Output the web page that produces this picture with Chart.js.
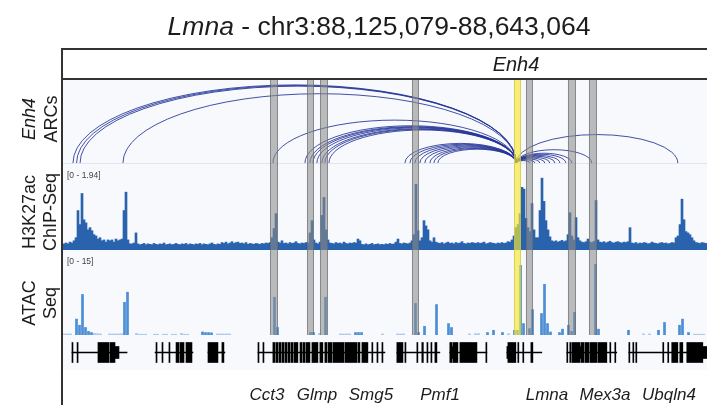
<!DOCTYPE html>
<html>
<head>
<meta charset="utf-8">
<script src="https://cdn.jsdelivr.net/npm/chart.js@4.4.1/dist/chart.umd.min.js"></script>
<style>
  html, body { margin: 0; padding: 0; background: #fff; }
  #page { position: relative; width: 707px; height: 405px; overflow: hidden; }
  .track { position: absolute; left: 63px; width: 644px; }
  canvas { display: block; }
  svg { position: absolute; left: 0; top: 0; }
</style>
</head>
<body>
<div id="page">
  <div class="track" style="top:80px;height:84px;background:#f8f9fc"><canvas id="arcs" width="644" height="84"></canvas></div>
  <div class="track" style="top:164px;height:86px;background:#f8f9fc"><canvas id="chip" width="644" height="86"></canvas></div>
  <div class="track" style="top:250px;height:85px;background:#f8f9fc"><canvas id="atac" width="644" height="85"></canvas></div>
  <div class="track" style="top:335px;height:35px;background:#f7f9fc"><canvas id="genes" width="644" height="35"></canvas></div>

  <svg width="707" height="405" font-family="'Liberation Sans', Arial, sans-serif" fill="#1c1c1c">
    <line x1="62" y1="49" x2="707" y2="49" stroke="#333" stroke-width="2"/>
    <line x1="62" y1="79" x2="707" y2="79" stroke="#333" stroke-width="2"/>
    <line x1="62" y1="48" x2="62" y2="405" stroke="#333" stroke-width="2"/>

    <text x="379" y="35" text-anchor="middle" font-size="26.5"><tspan font-style="italic">Lmna</tspan> - chr3:88,125,079-88,643,064</text>
    <text x="516" y="71" text-anchor="middle" font-size="20" font-style="italic">Enh4</text>

    <text transform="translate(35,119) rotate(-90)" text-anchor="middle" font-size="18" font-style="italic">Enh4</text>
    <text transform="translate(57,119) rotate(-90)" text-anchor="middle" font-size="18">ARCs</text>
    <text transform="translate(35,212) rotate(-90)" text-anchor="middle" font-size="18">H3K27ac</text>
    <text transform="translate(56,212) rotate(-90)" text-anchor="middle" font-size="18">ChIP-Seq</text>
    <text transform="translate(35,303) rotate(-90)" text-anchor="middle" font-size="18">ATAC</text>
    <text transform="translate(56,303) rotate(-90)" text-anchor="middle" font-size="18">Seq</text>

    <text x="67" y="178" font-size="8.5" fill="#444">[0 - 1.94]</text>
    <text x="67" y="264" font-size="8.5" fill="#444">[0 - 15]</text>

    <g font-size="17" font-style="italic" text-anchor="middle">
      <text x="267" y="400">Cct3</text>
      <text x="317" y="400">Glmp</text>
      <text x="371" y="400">Smg5</text>
      <text x="440" y="400">Pmf1</text>
      <text x="547" y="400">Lmna</text>
      <text x="605" y="400">Mex3a</text>
      <text x="669" y="400">Ubqln4</text>
    </g>
  </svg>
</div>

<script>
// Locus window (Mb)
const regionStart = 88.125079;
const regionEnd = 88.643064;

// H3K27ac ChIP-Seq coverage, fixed-step bins
const chipStart = 88.125079;
const chipStep = 0.00160865;
const chipMax = 1.94;
const chipVals = [
  .14,.16,.14,.18,.16,.21,.28,.90,.58,1.29,
  .69,.62,.46,.51,.44,.35,.32,.25,.28,.21,
  .23,.18,.23,.21,.23,.18,.25,.21,.23,.25,
  .90,1.32,.23,.14,.14,.16,.39,.14,.12,.13,
  .15,.12,.14,.13,.12,.15,.13,.12,.14,.13,
  .16,.12,.13,.14,.12,.13,.15,.13,.12,.14,
  .13,.15,.12,.14,.13,.12,.14,.13,.15,.12,
  .14,.13,.12,.14,.16,.13,.12,.14,.13,.17,
  .15,.18,.14,.16,.19,.15,.17,.18,.15,.16,
  .14,.17,.13,.15,.14,.13,.15,.14,.13,.15,
  .14,.16,.15,.17,.28,.49,.83,.18,.16,.21,
  .15,.16,.14,.17,.15,.16,.19,.15,.14,.16,
  .15,.17,.16,.39,.67,.23,.16,.14,.18,.79,
  1.20,.46,.23,.16,.15,.14,.17,.15,.16,.14,
  .18,.15,.14,.16,.15,.17,.16,.25,.21,.13,
  .12,.14,.12,.13,.15,.12,.13,.14,.12,.13,
  .12,.14,.13,.15,.13,.14,.18,.25,.15,.14,
  .16,.15,.14,.16,.21,.35,1.50,.44,.21,.28,
  .67,.55,.46,.21,.18,.28,.18,.16,.15,.17,
  .14,.16,.18,.15,.16,.14,.17,.15,.16,.19,
  .15,.14,.16,.15,.17,.16,.15,.17,.15,.16,
  .18,.14,.15,.17,.16,.15,.14,.16,.15,.17,
  .15,.16,.19,.18,.23,.32,.51,.58,.83,1.43,
  1.39,.72,.51,.42,1.06,.46,.28,.28,.90,1.64,
  1.11,.67,.46,.30,.21,.19,.21,.18,.20,.22,
  .19,.21,.35,.85,.32,.23,.74,.28,.21,.18,
  .17,.19,.25,.18,.17,.20,1.13,.23,.18,.17,
  .19,.16,.18,.20,.17,.16,.18,.19,.17,.16,
  .18,.17,.19,.51,.16,.15,.17,.14,.16,.15,
  .17,.16,.14,.15,.18,.16,.15,.14,.16,.17,
  .15,.16,.14,.15,.17,.16,.28,.32,.58,1.16,
  .69,.42,.39,.35,.28,.21,.17,.16,.15,.17,
  .16,.15
];

// ATAC-Seq signal, sparse fixed-step bins (bin index -> value)
const atacStart = 88.125079;
const atacStep = 0.0024130;
const atacMax = 15;
const atacBins = [0,1,2,4,5,6,7,8,9,10,11,12,15,16,17,18,19,20,21,24,25,26,27,30,31,33,34,36,37,39,40,41,
  46,47,48,49,51,52,53,54,55,70,71,82,83,85,87,92,93,94,95,97,98,99,106,111,112,113,117,118,120,124,
  128,129,135,137,138,141,143,146,148,150,151,152,153,155,156,159,160,161,162,165,166,168,169,170,
  177,178,188,193,195,198,200,205,206,208,210,211,212,213];
const atacVals = [.25,.25,.25,2.9,1.8,7.3,1.4,.7,.5,.35,.3,.25,.25,.25,.25,.25,.3,5.9,7.7,.35,.2,.2,.2,.2,.2,.2,.2,.2,.2,.35,.2,.2,
  .6,.5,.5,.45,.25,.25,.25,.25,.25,6.8,1.4,.5,.5,.35,6.8,.25,.25,.25,.25,.5,.5,.5,.25,.25,.25,.25,5.7,.5,1.6,5.5,
  2.1,1.4,.25,.3,.3,.5,.9,.5,.3,.9,.9,12.5,2.1,1.2,4.6,3.9,9.1,2.1,.6,.5,1.1,1.8,.7,4.1,
  12.7,1.1,.9,.25,.25,.9,2.3,1.8,2.9,.5,.2,.2,.2,.2];

// Enh4 contacts: anchor and partner positions (Mb)
const enh4Pos = 88.4897;
const arcPartners = [88.1331, 88.1360, 88.1388, 88.1733, 88.2939,
  88.3197, 88.3237, 88.3261, 88.3293, 88.3333, 88.3357, 88.3390,
  88.4001, 88.4041, 88.4081, 88.4121, 88.4161, 88.4202, 88.4234, 88.4266,
  88.5006, 88.5046, 88.5086, 88.5126, 88.5166, 88.5207, 88.5247, 88.5295, 88.5343,
  88.5504, 88.6196];
// Arc height is proportional to the contact span (kb); this span fills the track
const arcSpanMax = 379;

// Highlighted regions
const promoterBands = [[88.29157,88.29800],[88.32133,88.32696],[88.33178,88.33822],
  [88.40578,88.41141],[88.49747,88.50310],[88.53125,88.53769],[88.54814,88.55458]];
const enh4Band = [88.48782, 88.49345];

// RefSeq gene models (Mb)
const geneSpans = [[88.1323,88.1766],[88.1991,88.2296],[88.2417,88.2553],[88.2819,88.3840],
  [88.3936,88.4282],[88.4362,88.4660],[88.4821,88.5102],[88.5303,88.5705],[88.5802,88.6429]];
const geneExons = [
  [88.1323,88.1331],[88.1364,88.1372],[88.1532,88.1621],[88.1629,88.1669],
  [88.1999,88.2007],[88.2047,88.2055],[88.2103,88.2111],[88.2160,88.2184],[88.2192,88.2224],[88.2240,88.2288],
  [88.2417,88.2497],[88.2529,88.2545],
  [88.2819,88.2827],[88.2859,88.2867],[88.2939,88.2955],[88.2963,88.2980],[88.2988,88.3004],[88.3012,88.3028],
  [88.3036,88.3052],[88.3060,88.3076],[88.3084,88.3100],[88.3108,88.3140],[88.3157,88.3173],[88.3181,88.3197],
  [88.3205,88.3237],[88.3253,88.3301],[88.3317,88.3341],[88.3357,88.3373],[88.3382,88.3414],[88.3422,88.3510],
  [88.3518,88.3615],[88.3623,88.3639],[88.3655,88.3703],[88.3735,88.3743],[88.3776,88.3784],[88.3816,88.3824],
  [88.3936,88.3985],[88.4001,88.4009],[88.4097,88.4105],[88.4137,88.4149],[88.4178,88.4186],[88.4210,88.4218],[88.4242,88.4258],
  [88.4362,88.4378],[88.4386,88.4427],[88.4443,88.4580],[88.4652,88.4660],
  [88.4829,88.4893],[88.4909,88.4917],[88.4949,88.4957],[88.5014,88.5030],
  [88.5303,88.5311],[88.5327,88.5335],[88.5343,88.5408],[88.5416,88.5440],[88.5448,88.5480],[88.5488,88.5544],
  [88.5552,88.5625],[88.5649,88.5657],[88.5689,88.5697],
  [88.5802,88.5810],[88.5834,88.5842],[88.5858,88.5866],[88.6075,88.6083],[88.6115,88.6123],[88.6147,88.6196],
  [88.6212,88.6236],[88.6268,88.6397]
];
const geneUtrs = [[88.1669,88.1701],[88.4378,88.4386],[88.4821,88.4829],[88.5408,88.5416],[88.6397,88.6429]];

const common = {
  responsive: false,
  animation: false,
  events: [],
  plugins: { legend: { display: false }, tooltip: { enabled: false }, title: { display: false } }
};
const xAxis = { type: 'linear', min: regionStart, max: regionEnd, display: false, offset: false, grid: { display: false } };

const bandPlugin = {
  id: 'highlightBands',
  afterDatasetsDraw(chart) {
    const { ctx } = chart;
    const x = chart.scales.x;
    const h = chart.height;
    const paint = (b, fill, edge) => {
      const x1 = x.getPixelForValue(b[0]);
      const x2 = x.getPixelForValue(b[1]);
      ctx.fillStyle = fill;
      ctx.fillRect(x1, 0, x2 - x1, h);
      ctx.strokeStyle = edge;
      ctx.lineWidth = 1;
      ctx.beginPath();
      ctx.moveTo(x1 + 0.5, 0); ctx.lineTo(x1 + 0.5, h);
      ctx.moveTo(x2 - 0.5, 0); ctx.lineTo(x2 - 0.5, h);
      ctx.stroke();
    };
    ctx.save();
    promoterBands.forEach(b => paint(b, 'rgba(140,140,140,0.58)', 'rgba(95,95,95,0.55)'));
    paint(enh4Band, 'rgba(244,232,52,0.66)', 'rgba(200,190,60,0.6)');
    ctx.restore();
  }
};

const arcPlugin = {
  id: 'contactArcs',
  beforeDatasetsDraw(chart) {
    const { ctx } = chart;
    ctx.save();
    ctx.strokeStyle = '#e1e5ec';
    ctx.lineWidth = 1;
    ctx.beginPath();
    ctx.moveTo(0, chart.height - 0.5);
    ctx.lineTo(chart.width, chart.height - 0.5);
    ctx.stroke();
    ctx.restore();
  },
  afterDatasetsDraw(chart) {
    const { ctx } = chart;
    const x = chart.scales.x, y = chart.scales.y;
    const base = y.getPixelForValue(0);
    const ax = x.getPixelForValue(enh4Pos);
    ctx.save();
    ctx.strokeStyle = 'rgba(34,50,152,0.85)';
    ctx.lineWidth = 1;
    arcPartners.forEach(p => {
      const px = x.getPixelForValue(p);
      const top = y.getPixelForValue(Math.abs(p - enh4Pos) * 1000);
      ctx.beginPath();
      ctx.ellipse((ax + px) / 2, base, Math.abs(px - ax) / 2, base - top, 0, Math.PI, 2 * Math.PI);
      ctx.stroke();
    });
    ctx.restore();
  }
};

// Enh4 ARCs
new Chart(document.getElementById('arcs'), {
  type: 'scatter',
  data: { datasets: [{ data: arcPartners.map(p => ({ x: p, y: 0 })), pointRadius: 0 }] },
  options: Object.assign({}, common, {
    layout: { padding: { bottom: 1 } },
    scales: { x: xAxis, y: { type: 'linear', min: 0, max: arcSpanMax, display: false } }
  }),
  plugins: [arcPlugin, bandPlugin]
});

// H3K27ac ChIP-Seq
new Chart(document.getElementById('chip'), {
  type: 'bar',
  data: { datasets: [{
    data: chipVals.map((v, i) => ({ x: chipStart + (i + 0.5) * chipStep, y: v })),
    backgroundColor: '#2a63ad', borderWidth: 0, barPercentage: 1, categoryPercentage: 1
  }] },
  options: Object.assign({}, common, {
    layout: { padding: { top: 1 } },
    scales: { x: xAxis, y: { type: 'linear', min: 0, max: chipMax, display: false } }
  }),
  plugins: [bandPlugin]
});

// ATAC-Seq
new Chart(document.getElementById('atac'), {
  type: 'bar',
  data: { datasets: [{
    data: atacBins.map((b, i) => ({ x: atacStart + (b + 0.5) * atacStep, y: atacVals[i] })),
    backgroundColor: c => (c.raw && c.raw.y < 0.4 ? '#a8c7ea' : '#4d8fd7'),
    borderWidth: 0, barPercentage: 0.9, categoryPercentage: 1
  }] },
  options: Object.assign({}, common, {
    layout: { padding: { top: 1 } },
    scales: { x: xAxis, y: { type: 'linear', min: 0, max: atacMax, display: false } }
  }),
  plugins: [bandPlugin]
});

// Gene models
new Chart(document.getElementById('genes'), {
  type: 'bar',
  data: {
    labels: ['genes'],
    datasets: [
      { data: geneSpans.map(s => ({ x: s, y: 'genes' })), backgroundColor: '#000', barThickness: 1, grouped: false, borderWidth: 0 },
      { data: geneUtrs.map(s => ({ x: s, y: 'genes' })), backgroundColor: '#000', barThickness: 12, grouped: false, borderWidth: 0 },
      { data: geneExons.map(s => ({ x: s, y: 'genes' })), backgroundColor: '#000', barThickness: 20, grouped: false, borderWidth: 0 }
    ]
  },
  options: Object.assign({}, common, {
    indexAxis: 'y',
    scales: { x: xAxis, y: { type: 'category', labels: ['genes'], display: false } }
  })
});
</script>
</body>
</html>
